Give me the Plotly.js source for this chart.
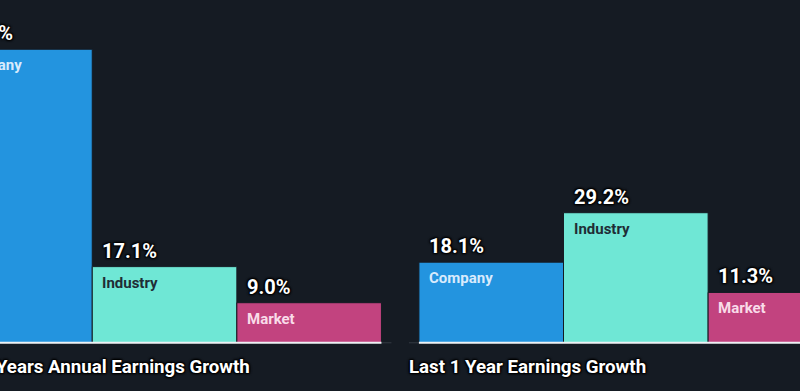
<!DOCTYPE html>
<html>
<head>
<meta charset="utf-8">
<script src="https://cdn.plot.ly/plotly-3.0.1.min.js"></script>
<style>
html,body{margin:0;padding:0;background:#151b23;}
#chart{width:800px;height:391px;}
</style>
</head>
<body>
<div id="chart"></div>
<script>
// ---- data ----
const groups = ["Past 5 Years Annual Earnings Growth", "Last 1 Year Earnings Growth"];
const series = ["Company", "Industry", "Market"];
const companyValues = [65.9, 18.1];
const industryValues = [17.1, 29.2];
const marketValues = [9.0, 11.3];
const valueLabels = [["65.9%", "18.1%"], ["17.1%", "29.2%"], ["9.0%", "11.3%"]];

// ---- styling ----
const colors = ["#2394df", "#6fe7d5", "#c2437f"];
const nameColors = ["rgba(235,245,255,0.92)", "#1f2d36", "rgba(255,235,245,0.92)"];
const bg = "#151b23";
const groupStep = 3.259;   // distance between group starts, in bar widths
const pxPerUnit = 144.6;   // bar width in px
const xStart = -0.138;
const xSpan = 800 / pxPerUnit;
const yMin = -(391 - 342.8) / 4.455, yMax = 342.8 / 4.455;
const allValues = [companyValues, industryValues, marketValues];
const toPaperX = x => (x - xStart) / xSpan;
const toPaperY = y => (y - yMin) / (yMax - yMin);

const traces = series.map((name, s) => ({
  type: "bar",
  name: name,
  x: groups.map((g, gi) => gi * groupStep + s),
  y: allValues[s],
  width: 1,
  marker: {color: colors[s], line: {color: bg, width: 1}},
  hoverinfo: "skip",
  showlegend: false
}));

const annotations = [];
const shapes = [];
const font = "Roboto, 'Open Sans', sans-serif";
const shadow = "1px 1px 2px #000, -1px -1px 2px #000, 1px -1px 2px #000, -1px 1px 2px #000";
groups.forEach((g, gi) => {
  const left = gi * groupStep - 0.5;
  const right = left + series.length;
  // grey axis baseline
  shapes.push({type: "line", xref: "x", yref: "y", x0: left - 10 / pxPerUnit, x1: right + 10 / pxPerUnit,
    y0: 0, y1: 0, line: {color: "#343b44", width: 1}});
  // white line under bars
  shapes.push({type: "line", xref: "x", yref: "y", x0: left, x1: right,
    y0: 0, y1: 0, line: {color: "#eef2f5", width: 2}});
  // group title
  annotations.push({x: toPaperX(left - 10 / pxPerUnit), y: toPaperY(0), xref: "paper", yref: "paper",
    xanchor: "left", yanchor: "top",
    xshift: -2, yshift: -11, showarrow: false, text: g,
    font: {family: font, size: 18.7, color: "#ffffff", weight: 700, shadow: shadow}});
  series.forEach((name, s) => {
    const v = allValues[s][gi];
    const bl = gi * groupStep + s - 0.5;
    annotations.push({x: toPaperX(bl), y: toPaperY(v), xref: "paper", yref: "paper",
      xanchor: "left", yanchor: "bottom",
      xshift: 8, yshift: 2, showarrow: false, text: valueLabels[s][gi],
      font: {family: font, size: 20, color: "#ffffff", weight: 700, shadow: shadow}});
    annotations.push({x: toPaperX(bl), y: toPaperY(v), xref: "paper", yref: "paper",
      xanchor: "left", yanchor: "top",
      xshift: 8, yshift: -5, showarrow: false, text: name,
      font: {family: font, size: 15, color: nameColors[s], weight: 700}});
  });
});

const layout = {
  width: 800, height: 391,
  margin: {l: 0, r: 0, t: 0, b: 0},
  paper_bgcolor: bg, plot_bgcolor: bg,
  bargap: 0,
  xaxis: {range: [xStart, xStart + xSpan], visible: false, fixedrange: true},
  yaxis: {range: [yMin, yMax], visible: false, fixedrange: true},
  annotations: annotations,
  shapes: shapes,
  showlegend: false
};

Plotly.newPlot("chart", traces, layout, {displayModeBar: false, staticPlot: true});
</script>
</body>
</html>
